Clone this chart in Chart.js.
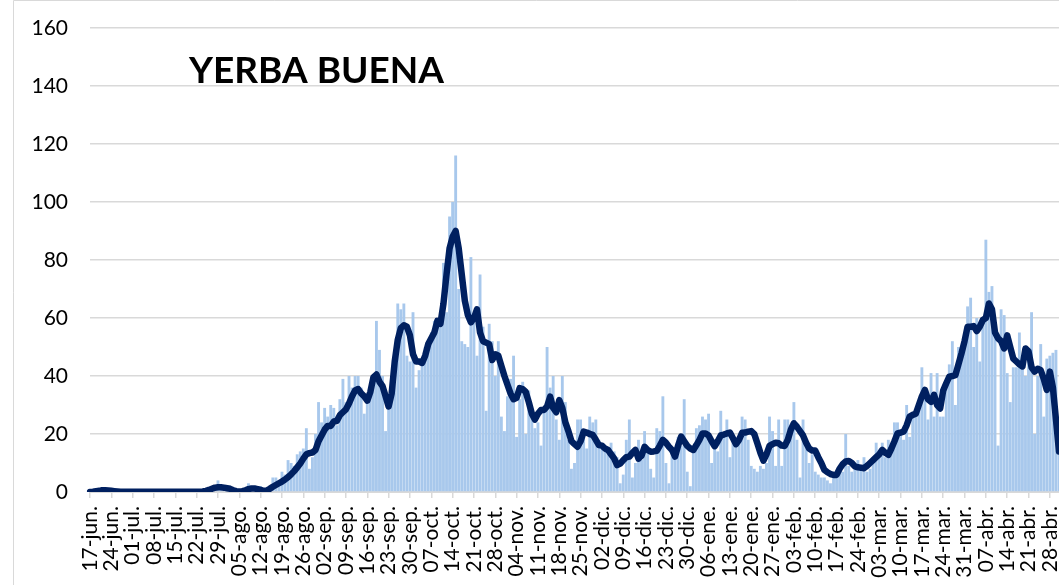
<!DOCTYPE html>
<html>
<head>
<meta charset="utf-8">
<script src="https://cdn.jsdelivr.net/npm/chart.js@4/dist/chart.umd.min.js"></script>
<style>
  html, body { margin: 0; padding: 0; background: #fff; overflow: hidden; }
  #wrap { position: relative; width: 1059px; height: 585px; }
</style>
</head>
<body>
<div id="wrap"><canvas id="chart" width="1059" height="585"></canvas></div>
<script>
// casos diarios, 17-jun a 01-may (una fila por semana)
const casos = [
  0, 0, 1, 1, 1, 0, 0,
  0, 0, 0, 0, 1, 0, 0,
  0, 0, 0, 0, 0, 0, 1,
  0, 0, 0, 0, 0, 1, 0,
  0, 0, 0, 0, 0, 0, 0,
  0, 0, 0, 1, 1, 1, 2,
  4, 2, 1, 1, 0, 0, 0,
  0, 1, 1, 3, 2, 1, 1,
  2, 1, 1, 2, 5, 5, 3,
  7, 6, 11, 10, 9, 13, 14,
  15, 22, 8, 12, 20, 31, 24,
  29, 26, 30, 29, 23, 32, 39,
  31, 40, 36, 40, 40, 36, 27,
  32, 36, 40, 59, 49, 40, 21,
  31, 40, 48, 65, 63, 65, 47,
  45, 62, 36, 42, 45, 50, 52,
  55, 59, 60, 60, 79, 62, 95,
  100, 116, 70, 52, 51, 50, 81,
  60, 47, 75, 57, 28, 58, 52,
  40, 52, 26, 21, 33, 39, 47,
  19, 32, 38, 20, 35, 29, 22,
  24, 16, 28, 50, 36, 40, 25,
  18, 40, 31, 18, 8, 10, 25,
  25, 21, 15, 26, 24, 25, 18,
  16, 14, 14, 17, 14, 12, 3,
  6, 18, 25, 5, 10, 18, 11,
  21, 14, 8, 5, 22, 21, 33,
  10, 3, 14, 14, 19, 16, 32,
  7, 2, 15, 22, 23, 26, 25,
  27, 10, 15, 14, 28, 20, 25,
  12, 19, 16, 19, 26, 25, 18,
  9, 8, 7, 9, 8, 10, 26,
  21, 9, 25, 9, 25, 25, 21,
  31, 18, 5, 25, 17, 10, 13,
  7, 6, 5, 5, 4, 3, 5,
  6, 9, 7, 20, 9, 7, 8,
  11, 8, 12, 7, 8, 12, 17,
  13, 17, 12, 18, 14, 24, 24,
  21, 18, 30, 19, 27, 26, 30,
  43, 36, 25, 41, 26, 41, 26,
  26, 36, 44, 52, 30, 50, 48,
  52, 64, 67, 50, 60, 45, 58,
  87, 69, 71, 54, 16, 63, 61,
  41, 31, 43, 43, 55, 45, 40,
  48, 62, 20, 40, 51, 26, 46,
  47, 48, 49, 15
];

// promedio movil 7 dias
const promedio = [
  0, 0.1, 0.3, 0.4, 0.6, 0.6, 0.5,
  0.4, 0.3, 0.2, 0.1, 0.1, 0.1, 0.1,
  0.1, 0.1, 0.1, 0.1, 0.1, 0.1, 0.1,
  0.1, 0.1, 0.1, 0.1, 0.1, 0.1, 0.1,
  0.1, 0.1, 0.1, 0.1, 0.1, 0.1, 0.1,
  0.1, 0.1, 0.2, 0.4, 0.7, 1.1, 1.5,
  1.6, 1.6, 1.5, 1.3, 1.1, 0.6, 0.3,
  0.2, 0.3, 0.6, 1.0, 1.2, 1.2, 1.0,
  0.7, 0.4, 0.5, 1.1, 1.8, 2.4, 3.0,
  3.6, 4.3, 5.1, 6.1, 7.2, 8.5, 9.8,
  11.5, 13.0, 13.4, 13.6, 14.5, 17.5, 19.5,
  21.5, 22.8, 22.8, 24.3, 24.5, 26.5, 27.5,
  28.5, 30.5, 33, 35, 35.5, 34, 33,
  31.5, 34.5, 39.5, 40.5, 38, 36.5, 33,
  29.5, 34, 45, 52.5, 56.5, 57.5, 57,
  54, 47.5, 45, 45, 44.5, 47, 51,
  53, 55, 59, 58, 65, 75, 84,
  88, 90, 84, 75, 66, 61, 58.5,
  60, 63, 55, 52, 51.5, 51, 45.5,
  47.5, 47, 43.5, 40, 37, 34, 32,
  32.5, 35.8, 35.5, 34.5, 31, 27, 25,
  27, 28.3, 28.3, 29.5, 32.9, 29, 27.5,
  31.7, 29, 24, 21, 17.5, 16.5, 15.6,
  17.5, 20.8, 20.5, 20, 19.7, 18, 16.2,
  16, 15, 14.5, 13, 11.6, 9.3, 9.8,
  11, 12, 12.2, 13.5, 14.5, 11.5, 12.5,
  15.6, 14.5, 13.9, 14, 14.2, 16, 18,
  17, 15.6, 14.5, 12.2, 16, 19.1, 17.5,
  15.9, 15, 14.5, 16.2, 18, 20.2, 20.2,
  19.5, 17.5, 15.8, 17.5, 19.5, 19.8, 20.2,
  20.5, 18.5, 16.5, 18, 20.4, 20.5, 20.8,
  21, 20, 16.8, 13.5, 10.8, 13, 15.9,
  16.5, 17, 16.8, 16, 15.9, 18, 21.5,
  23.7, 22.5, 21, 19.5, 17, 15, 14.3,
  14.3, 12, 10, 7.6, 6.8, 6.2, 5.9,
  5.9, 8, 9.6, 10.5, 10.7, 10, 8.8,
  8.5, 8.4, 8.2, 9, 10, 11, 12,
  13, 14.5, 13.5, 12.8, 15, 17.5, 20.2,
  20.5, 20.8, 23, 26, 26.6, 27, 30,
  33, 35.2, 32, 31.1, 33.5, 30, 28.8,
  35, 37.5, 39.8, 40, 40.3, 44, 47.8,
  52, 57, 57, 57.2, 55.5, 57, 59.3,
  60, 65, 63, 55, 53, 52, 49.5,
  54, 50, 46, 45, 44, 43.3, 49.5,
  48.5, 43, 41.5, 42.5, 42, 39, 35.2,
  41.5, 36, 25, 14
];

// una etiqueta cada 7 dias
const semanas = [
  '17-jun.', '24-jun.', '01-jul.', '08-jul.', '15-jul.', '22-jul.', '29-jul.',
  '05-ago.', '12-ago.', '19-ago.', '26-ago.', '02-sep.', '09-sep.', '16-sep.',
  '23-sep.', '30-sep.', '07-oct.', '14-oct.', '21-oct.', '28-oct.', '04-nov.',
  '11-nov.', '18-nov.', '25-nov.', '02-dic.', '09-dic.', '16-dic.', '23-dic.',
  '30-dic.', '06-ene.', '13-ene.', '20-ene.', '27-ene.', '03-feb.', '10-feb.',
  '17-feb.', '24-feb.', '03-mar.', '10-mar.', '17-mar.', '24-mar.', '31-mar.',
  '07-abr.', '14-abr.', '21-abr.', '28-abr.'
];

const titulo = 'YERBA BUENA';
const dias = casos.map((_, i) => i);

const marco = {
  id: 'marco',
  beforeDraw(chart) {
    const c = chart.ctx;
    c.save();
    c.strokeStyle = '#d9d9d9';
    c.lineWidth = 1;
    c.beginPath();
    c.moveTo(13.5, 585);
    c.lineTo(13.5, 0.5);
    c.lineTo(1059, 0.5);
    c.stroke();
    c.restore();
  },
  afterDraw(chart) {
    const c = chart.ctx;
    c.save();
    c.fillStyle = '#000';
    c.font = 'bold 37px Lato';
    c.textBaseline = 'alphabetic';
    c.fillText(titulo, 189, 83);
    c.restore();
  }
};

new Chart(document.getElementById('chart'), {
  type: 'bar',
  data: {
    labels: dias,
    datasets: [{
      type: 'line',
      data: promedio,
      borderColor: '#002060',
      borderWidth: 6.5,
      pointRadius: 0,
      tension: 0,
      borderJoinStyle: 'round',
      borderCapStyle: 'round',
      order: 0
    }, {
      type: 'bar',
      data: casos,
      backgroundColor: '#a8c8ec',
      barPercentage: 1,
      categoryPercentage: 0.94,
      order: 1
    }]
  },
  options: {
    responsive: false,
    animation: false,
    devicePixelRatio: 1,
    layout: { padding: { top: 28, right: 0, left: 0, bottom: 0 } },
    plugins: { legend: { display: false }, tooltip: { enabled: false } },
    scales: {
      x: {
        offset: false,
        afterBuildTicks: s => { s.ticks = s.ticks.filter(t => t.value % 7 === 0); },
        afterFit: s => { s.height = 93; s.paddingLeft = 0; s.paddingRight = 0; },
        grid: { offset: false, drawOnChartArea: false, color: '#d9d9d9', lineWidth: 1.5, tickLength: 6 },
        border: { color: '#d9d9d9', width: 2 },
        ticks: {
          autoSkip: false,
          maxRotation: 90,
          minRotation: 90,
          padding: 8,
          color: '#000',
          font: { family: 'Lato', size: 21 },
          callback: v => semanas[v / 7]
        }
      },
      y: {
        min: 0,
        max: 160,
        afterFit: s => { s.width = 90; s.paddingTop = 0; s.paddingBottom = 0; },
        grid: { color: '#d9d9d9', lineWidth: 1.5, drawTicks: false },
        border: { display: false },
        ticks: {
          stepSize: 20,
          padding: 22,
          color: '#000',
          font: { family: 'Lato', size: 21 }
        }
      }
    }
  },
  plugins: [marco]
});
</script>
</body>
</html>
